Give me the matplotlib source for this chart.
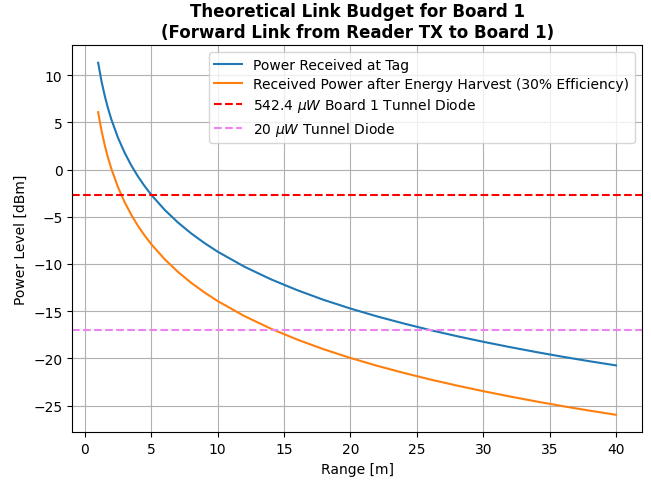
import matplotlib
matplotlib.use("Agg")
from matplotlib import pyplot as plt

# range [m] and power levels [dBm]
rng = [1, 1.25, 1.5, 1.75, 2, 2.5, 3, 3.5, 4, 4.5, 5, 6, 7, 8, 9, 10,
       12, 14, 16, 18, 20, 22, 24, 26, 28, 30, 32, 34, 36, 38, 40]
p_tag = [11.30, 9.36, 7.78, 6.44, 5.28, 3.34, 1.76, 0.42, -0.74, -1.76,
         -2.68, -4.26, -5.60, -6.76, -7.78, -8.70, -10.28, -11.62, -12.78,
         -13.81, -14.72, -15.55, -16.30, -17.00, -17.64, -18.24, -18.80,
         -19.33, -19.83, -20.30, -20.74]
p_harvest = [6.07, 4.13, 2.55, 1.21, 0.05, -1.89, -3.47, -4.81, -5.97, -6.99,
             -7.91, -9.49, -10.83, -11.99, -13.01, -13.93, -15.51, -16.85,
             -18.01, -19.04, -19.95, -20.78, -21.53, -22.23, -22.87, -23.47,
             -24.03, -24.56, -25.06, -25.53, -25.97]
board_diode = -2.66
tunnel_diode = -16.99

plt.figure(figsize=(6.51, 4.81), dpi=100)
plt.plot(rng, p_tag, label="Power Received at Tag")
plt.plot(rng, p_harvest, label="Received Power after Energy Harvest (30% Efficiency)")
plt.axhline(board_diode, color="red", linestyle="--", label=r"542.4 $\mu W$ Board 1 Tunnel Diode")
plt.axhline(tunnel_diode, color="violet", linestyle="--", label=r"20 $\mu W$ Tunnel Diode")
plt.title("Theoretical Link Budget for Board 1\n(Forward Link from Reader TX to Board 1)",
          fontweight="bold")
plt.xlabel("Range [m]")
plt.ylabel("Power Level [dBm]")
plt.grid()
plt.legend(loc=1, labelspacing=0.38)
plt.subplots_adjust(left=0.111, right=0.986, top=0.904, bottom=0.099)
plt.savefig("out.png", dpi=100)
